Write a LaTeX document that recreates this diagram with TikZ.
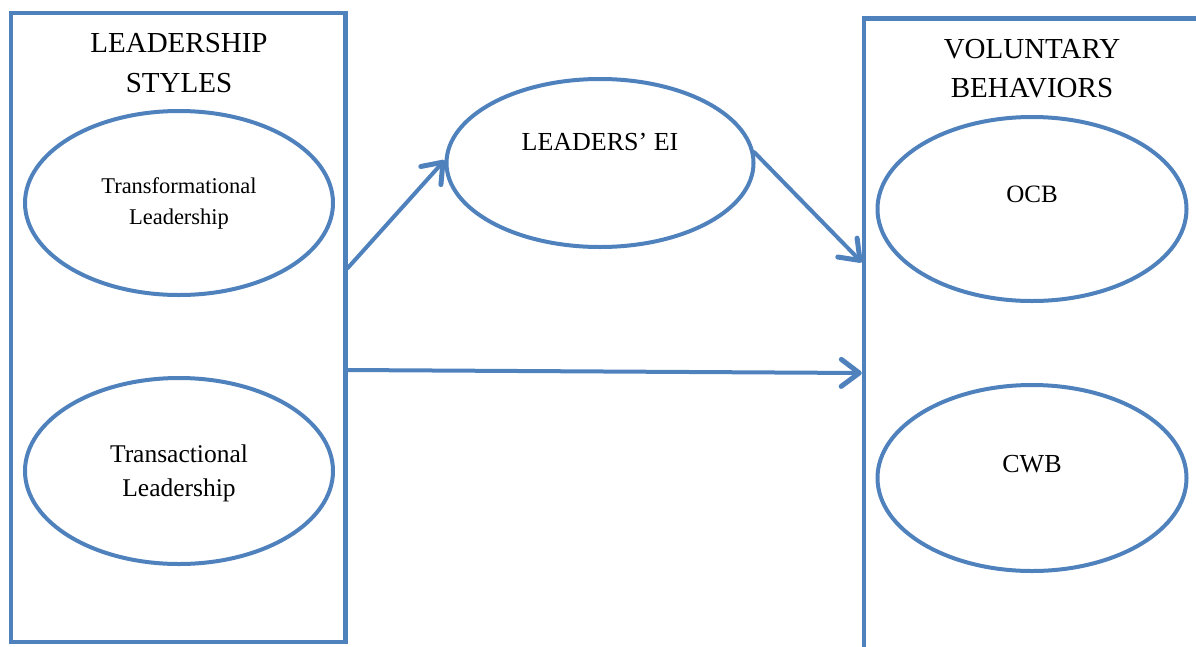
\documentclass[tikz,border=0pt]{standalone}
\usepackage{fontspec}
\setmainfont{Liberation Serif}
\usetikzlibrary{shapes.geometric,arrows.meta}
\definecolor{frameblue}{HTML}{4F81BD}
\tikzset{
  panel/.style={draw=frameblue, line width=4.5pt, rectangle, inner sep=0pt},
  oval/.style={draw=frameblue, line width=4pt, ellipse, inner sep=0pt},
  link/.style={draw=frameblue, line width=4pt, line cap=round, line join=round,
    -{Straight Barb[length=18pt,width=27pt,line width=5pt 0,round]}},
  title/.style={anchor=base, inner sep=0pt, font=\fontsize{29}{34}\selectfont},
  label/.style={anchor=base, inner sep=0pt}
}
\begin{document}
\begin{tikzpicture}[x=1pt, y=-1pt]
\useasboundingbox (0,0) rectangle (1196,646);
\begin{scope}
\clip (0,0) rectangle (1196,646);
% outer panels
\node[panel, minimum width=334.5pt, minimum height=629pt] (lbox) at (178.25,327.5) {};
\node[panel, minimum width=366pt, minimum height=681.5pt] (rbox) at (1047,359.25) {};
\end{scope}

% panel titles
\node[title] (ltitle1) at (179,52) {LEADERSHIP};
\node[title] (ltitle2) at (179,92) {STYLES};
\node[title] (rtitle1) at (1032,58) {VOLUNTARY};
\node[title] (rtitle2) at (1032,97) {BEHAVIORS};

% ovals
\node[oval, minimum width=308pt, minimum height=184pt] (tf) at (179,203) {};
\node[oval, minimum width=308pt, minimum height=186pt] (ta) at (179,471) {};
\node[oval, minimum width=307pt, minimum height=168pt] (ei) at (600,163) {};
\node[oval, minimum width=309pt, minimum height=184pt] (ocb) at (1032,209) {};
\node[oval, minimum width=309pt, minimum height=186pt] (cwb) at (1032,478) {};

% oval texts
\node[label, font=\fontsize{22.5}{27}\selectfont] (tft1) at (179,193) {Transformational};
\node[label, font=\fontsize{22.5}{27}\selectfont] (tft2) at (179,224) {Leadership};
\node[label, font=\fontsize{25.5}{30}\selectfont] (tat1) at (179,462) {Transactional};
\node[label, font=\fontsize{25.5}{30}\selectfont] (tat2) at (179,496) {Leadership};
\node[label, font=\fontsize{26}{30}\selectfont] (eit) at (600,150) {LEADERS’ EI};
\node[label, font=\fontsize{25}{30}\selectfont] (ocbt) at (1032,202) {OCB};
\node[label, font=\fontsize{26}{30}\selectfont] (cwbt) at (1032,472) {CWB};

% paths between the constructs
\draw[link] ([yshift=59.5pt]lbox.east) -- (ei.179);
\draw[link] (ei.4) -- ([yshift=97pt]rbox.west);
\draw[link] ([yshift=-42.5pt]lbox.east) -- ([yshift=-13.75pt]rbox.west);
\end{tikzpicture}
\end{document}
